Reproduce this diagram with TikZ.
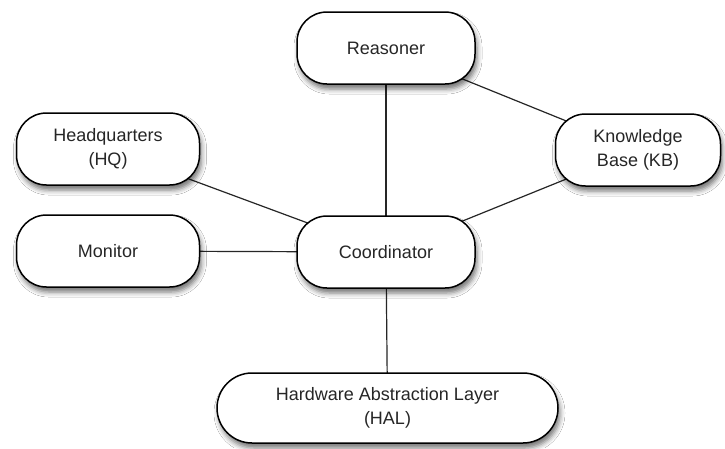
\documentclass[tikz,border=0pt]{standalone}
\usepackage{fontspec}
\setmainfont{Liberation Sans}
\usetikzlibrary{shadows.blur,backgrounds}
\begin{document}
\begin{tikzpicture}[x=1pt,y=-1pt,
  module/.style={draw=black, line width=1.5pt, fill=white, rounded corners=30pt,
    minimum width=178pt, minimum height=72pt, align=center,
    font=\fontsize{18}{24}\selectfont, text=black!85,
    blur shadow={shadow xshift=2pt, shadow yshift=-5pt, shadow blur radius=5pt, shadow opacity=55}},
  link/.style={draw=black!85, line width=1.2pt}]
\useasboundingbox (0,0) rectangle (725,448);
\node[module] (reas) at (386,48) {Reasoner};
\node[module, minimum width=183pt] (hq) at (108,149) {Headquarters\\(HQ)};
\node[module, minimum width=183pt] (mon) at (108,251) {Monitor};
\node[module] (coord) at (386,252) {Coordinator};
\node[module, minimum width=165pt] (kb) at (638,150) {Knowledge\\Base (KB)};
\node[module, minimum width=341pt, minimum height=70pt, rounded corners=35pt] (hal) at (387.5,408) {Hardware Abstraction Layer\\(HAL)};
% links run centre to centre behind the boxes, so they meet the curved borders
\begin{scope}[on background layer]
\fill[white] (0,0) rectangle (725,448);
\draw[link] (reas.center) -- (coord.center);
\draw[link] (reas.center) -- (kb.center);
\draw[link] (hq.center) -- (coord.center);
\draw[link] (mon.center) -- (coord.center);
\draw[link] (kb.center) -- (coord.center);
\draw[link] (coord.center) -- (hal.center);
\end{scope}
\end{tikzpicture}
\end{document}
